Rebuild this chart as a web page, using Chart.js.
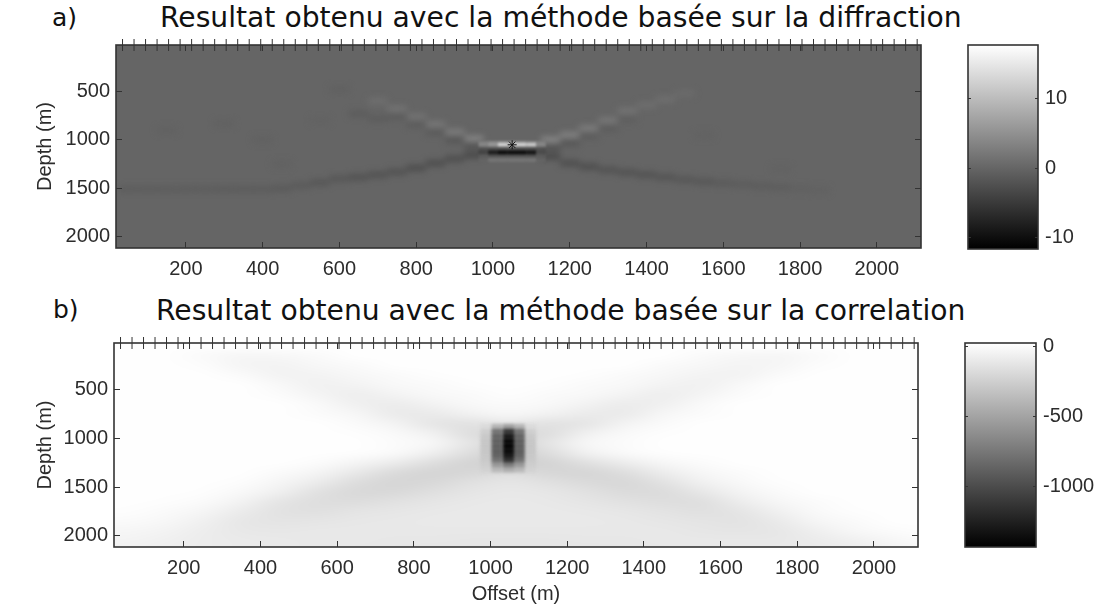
<!DOCTYPE html>
<html><head><meta charset="utf-8">
<style>
html,body{margin:0;padding:0;background:#fff;width:1102px;height:606px;overflow:hidden}
canvas{position:absolute}
.t{position:absolute;font-family:"DejaVu Sans";color:#111;white-space:nowrap;line-height:1}
</style>
<script src="https://cdn.jsdelivr.net/npm/chart.js@4"></script>
</head><body>
<div class="t" style="left:160px;top:4px;font-size:28.2px">Resultat obtenu avec la méthode basée sur la diffraction</div>
<div class="t" style="left:156px;top:297px;font-size:28.2px">Resultat obtenu avec la méthode basée sur la correlation</div>
<div class="t" style="left:52px;top:5px;font-size:25px">a)</div>
<div class="t" style="left:53px;top:297px;font-size:25px">b)</div>
<canvas id="ca" width="950" height="290" style="left:0;top:0"></canvas>
<canvas id="cb" width="950" height="316" style="left:0;top:290px"></canvas>
<canvas id="ba" width="142" height="290" style="left:960px;top:0"></canvas>
<canvas id="bb" width="142" height="316" style="left:960px;top:290px"></canvas>
<script>
// ---------- axes ----------
const xTicks = [200,400,600,800,1000,1200,1400,1600,1800,2000];
const yTicks = [500,1000,1500,2000];
const xRange = [18,2115];
const yRange = [20,2115];
const barTicksA = [-10,0,10];
const barRangeA = [-11.6,17.65];
const barTicksB = [-1000,-500,0];
const barRangeB = [-1429,26];
const receivers = [35,65,95,125,155,185,215,245,275,305,335,365,395,425,455,485,515,545,575,605,635,665,695,725,755,785,815,845,875,905,935,965,995,1025,1055,1085,1115,1145,1175,1205,1235,1265,1295,1325,1355,1385,1415,1445,1475,1505,1535,1565,1595,1625,1655,1685,1715,1745,1775,1805,1835,1865,1895,1925,1955,1985,2015,2045,2075,2105];
const sourceX = [1050];
const sourceY = [1050];

// ---------- panel a: diffraction, everything not listed is 0 ----------
const armAX = [700,750,800,850,900,950, 750,800,850,900,950,
 1150,1200,1250,1300,1350,1400,1450,1500, 1150,1200,1250,1300,1350,
 950,900,850,800,750,700,650,600,550,500,450,400,350,300,250,200,150,100,50,
 1150,1200,1250,1300,1350,1400,1450,1500,1550,1600,1650,1700,1750,1800,1850,
 600,650,700,300,150,400,550,450,1750,1550];
const armAY = [600,680,760,840,920,990, 760,840,920,1000,1060,
 1000,950,880,800,700,640,580,520, 1080,1030,960,880,790,
 1155,1195,1240,1290,1330,1360,1385,1400,1440,1470,1500,1510,1510,1510,1510,1510,1510,1510,1510,
 1170,1240,1275,1310,1335,1360,1385,1410,1430,1445,1460,1475,1490,1505,1520,
 480,730,780,830,900,1000,800,1250,1300,950];
const armAV = [1.2,1.8,1.8,2.4,3,4.2, -1.2,-1.2,-1.4,-1.8,-2.5,
 4.2,3.6,3,2.4,1.8,1.2,1.2,0.8, -2.5,-1.8,-1.2,-1.2,-0.8,
 -3.6,-3,-3,-3,-2.4,-2.4,-2.4,-1.8,-1.8,-1.4,-1.4,-1.2,-1.2,-1.2,-1,-1,-1,-1,-1,
 -3.6,-3,-3,-2.4,-2.4,-2.4,-2.2,-1.8,-1.8,-1.4,-1.2,-1.2,-1,-0.6,-0.5,
 -0.6,-1.2,-1.2,-0.5,-0.5,-0.5,-0.4,-0.5,-0.4,-0.4];
const coreAX = [975,1000,1025,1050,1075,1100,1125];
const coreAY = [1020,1040,1060,1080,1100,1120,1140,1160,1180,1200,1220];
const coreAV = [
 [3,4,5,5,5,4,3],
 [4,6,13,13,13,12,4],
 [4,6,13,13,13,12,4],
 [-1,-1,-1,-1,-1,-1,-1],
 [-3,-4,-4,-4,-4,-4,-3],
 [-4,-9,-11,-11,-11,-10,-3],
 [-4,-9,-11.5,-11.5,-11.5,-10,-3],
 [-1,-3,-3,-3,-3,-3,-1],
 [-1,-1,-1,-1,-1,-1,-1],
 [0,2.5,2.5,2.5,2.5,2.5,0],
 [0,1.5,1.5,1.5,1.5,1.5,0]];

// ---------- panel b: correlation ----------
const gridBX = [50,150,250,350,450,550,650,750,850,950,1050,1150,1250,1350,1450,1550,1650,1750,1850,1950,2050,2150];
const gridBY = [50,150,250,350,450,550,650,750,850,950,1050,1150,1250,1350,1450,1550,1650,1750,1850,1950,2050,2150];
const gridBV = [
 [20,20,20,20,20,20,20,20,20,20,20,20,20,20,20,20,20,20,20,20,20,20],
 [20,20,-5,-25,-20,-5,20,20,20,20,20,20,20,20,20,-5,-20,-25,-5,20,20,20],
 [20,20,10,-30,-40,-20,-5,20,20,20,20,20,20,20,-5,-20,-35,-25,10,20,20,20],
 [20,20,20,-5,-40,-45,-20,-3,15,20,20,20,15,-3,-20,-45,-40,-5,20,20,20,20],
 [20,20,20,20,-15,-55,-45,-15,-3,15,20,15,-3,-15,-45,-55,-15,20,20,20,20,20],
 [20,20,20,20,5,-35,-70,-45,-15,0,15,0,-15,-45,-70,-35,5,20,20,20,20,20],
 [20,20,20,20,20,-10,-60,-85,-50,-15,0,-15,-50,-85,-60,-10,20,20,20,20,20,20],
 [20,20,20,20,20,5,-25,-90,-95,-55,-25,-55,-90,-90,-25,5,20,20,20,20,20,20],
 [20,20,20,20,20,20,0,-45,-115,-140,-110,-140,-115,-45,0,20,20,20,20,20,20,20],
 [20,20,20,20,20,20,15,-10,-60,-160,-180,-160,-60,-10,15,20,20,20,20,20,20,20],
 [20,20,20,20,20,20,20,5,-25,-130,-220,-130,-25,5,20,20,20,20,20,20,20,20],
 [20,20,20,20,20,20,15,-10,-70,-170,-240,-170,-60,-10,15,20,20,20,20,20,20,20],
 [20,20,20,20,20,5,-35,-90,-165,-220,-230,-220,-150,-80,-25,5,20,20,20,20,20,20],
 [20,20,20,20,0,-35,-105,-180,-215,-200,-170,-200,-210,-160,-80,-25,5,20,20,20,20,20],
 [20,20,20,10,-30,-90,-170,-210,-195,-150,-125,-150,-185,-195,-140,-60,-15,15,20,20,20,20],
 [20,20,15,-15,-65,-145,-190,-190,-155,-120,-105,-115,-145,-180,-175,-110,-40,-5,20,20,20,20],
 [20,15,-5,-50,-125,-165,-170,-145,-120,-105,-100,-105,-120,-145,-165,-155,-85,-25,5,20,20,20],
 [15,0,-30,-90,-140,-150,-130,-115,-105,-100,-100,-100,-105,-115,-135,-150,-125,-60,-10,15,20,20],
 [0,-20,-60,-110,-130,-120,-110,-105,-100,-100,-100,-100,-100,-105,-115,-130,-135,-95,-30,0,20,20],
 [-25,-45,-75,-105,-110,-105,-105,-105,-105,-105,-105,-105,-105,-105,-105,-115,-120,-110,-65,-20,5,15],
 [-45,-60,-80,-95,-100,-105,-105,-110,-110,-115,-115,-115,-110,-110,-105,-105,-105,-105,-90,-60,-25,-5],
 [-55,-70,-85,-95,-100,-105,-110,-115,-120,-120,-120,-120,-120,-115,-110,-105,-100,-100,-95,-80,-50,-25]];
const coreBX = [988,1017,1047,1076,1104];
const coreBY = [875,925,975,1025,1075,1125,1175,1225,1275,1325];
const coreBV = [
 [-180,-400,-520,-400,-180],
 [-250,-780,-1130,-780,-250],
 [-280,-870,-1300,-870,-280],
 [-300,-900,-1400,-900,-300],
 [-300,-900,-1420,-900,-300],
 [-300,-900,-1380,-900,-300],
 [-290,-870,-1300,-870,-290],
 [-280,-780,-1150,-780,-280],
 [-260,-560,-720,-560,-260],
 [-230,-380,-440,-380,-230]];

// ---------- styling ----------
const INK = '#2c2c2c', LINE = '#333';
const FONT = {family:'"Liberation Sans"', size:20};

function grayOf(v, r){
  const g = Math.max(0, Math.min(255, Math.round((v-r[0])/(r[1]-r[0])*255)));
  return 'rgb('+g+','+g+','+g+')';
}
function blurredCells(chart, cells, dx, dy, blur, range){
  const {x, y} = chart.scales, c = chart.ctx, a = chart.chartArea;
  const layer = document.createElement('canvas');
  layer.width = chart.width; layer.height = chart.height;
  const l = layer.getContext('2d');
  cells.forEach(([cx,cy,v]) => {
    const x0 = x.getPixelForValue(cx-dx/2), x1 = x.getPixelForValue(cx+dx/2);
    const y0 = y.getPixelForValue(cy-dy/2), y1 = y.getPixelForValue(cy+dy/2);
    l.fillStyle = grayOf(v, range);
    l.fillRect(x0, y0, x1-x0, y1-y0);
  });
  c.save();
  c.beginPath(); c.rect(a.left, a.top, a.width, a.height); c.clip();
  c.filter = 'blur('+blur+'px)';
  c.drawImage(layer, 0, 0);
  c.restore();
}
function matrixCells(xs, ys, vs){
  const out = [];
  ys.forEach((yy,j) => xs.forEach((xx,i) => out.push([xx,yy,vs[j][i]])));
  return out;
}
const heatA = {id:'heatA', beforeDatasetsDraw(chart){
  const a = chart.chartArea, c = chart.ctx;
  c.fillStyle = grayOf(0, barRangeA);
  c.fillRect(a.left, a.top, a.width, a.height);
  blurredCells(chart, armAX.map((v,i)=>[v,armAY[i],armAV[i]]), 50, 60, 3, barRangeA);
  blurredCells(chart, matrixCells(coreAX, coreAY, coreAV), 25, 20, 1.1, barRangeA);
}};
const heatB = {id:'heatB', beforeDatasetsDraw(chart){
  const {x, y} = chart.scales, c = chart.ctx, a = chart.chartArea;
  const bmp = document.createElement('canvas');
  bmp.width = gridBX.length; bmp.height = gridBY.length;
  const b = bmp.getContext('2d');
  gridBV.forEach((row,j) => row.forEach((v,i) => { b.fillStyle = grayOf(v, barRangeB); b.fillRect(i,j,1,1); }));
  const sx = gridBX[1]-gridBX[0], sy = gridBY[1]-gridBY[0];
  const x0 = x.getPixelForValue(gridBX[0]-sx/2), x1 = x.getPixelForValue(gridBX[gridBX.length-1]+sx/2);
  const y0 = y.getPixelForValue(gridBY[0]-sy/2), y1 = y.getPixelForValue(gridBY[gridBY.length-1]+sy/2);
  c.save();
  c.beginPath(); c.rect(a.left, a.top, a.width, a.height); c.clip();
  c.imageSmoothingEnabled = true; c.imageSmoothingQuality = 'high';
  c.drawImage(bmp, x0, y0, x1-x0, y1-y0);
  c.restore();
  blurredCells(chart, matrixCells(coreBX, coreBY, coreBV), 29, 50, 1.8, barRangeB);
}};
const frame = {id:'frame', afterDraw(chart){
  const a = chart.chartArea, c = chart.ctx;
  c.save(); c.strokeStyle = LINE; c.lineWidth = 1.6;
  c.strokeRect(a.left, a.top, a.width, a.height);
  c.restore();
}};
const tickMarks = (len) => ({display:true, drawOnChartArea:false, drawTicks:true, tickLength:-len, color:LINE, lineWidth:1, z:1});
const fixTicks = (arr) => (s) => { s.ticks = arr.map(v => ({value:v})); };

function mainChart(id, plugins, area, xTitle, points){
  const [l, t, r, b] = area;
  const el = document.getElementById(id);
  return new Chart(el, {
    type:'scatter',
    data:{datasets:points},
    plugins:plugins.concat([frame]),
    options:{
      responsive:false, animation:false, events:[],
      layout:{padding:{left:0, top:t, right:el.width-r, bottom:0}},
      plugins:{legend:{display:false}, tooltip:{enabled:false}, title:{display:false}},
      scales:{
        x:{type:'linear', position:'bottom', min:xRange[0], max:xRange[1],
           afterBuildTicks:fixTicks(xTicks),
           afterFit:(s)=>{s.height = el.height-b;},
           border:{display:false}, grid:tickMarks(6),
           title:{display:!!xTitle, text:xTitle||'', color:INK, font:FONT, padding:{top:5,bottom:0}},
           ticks:{color:INK, font:FONT, autoSkip:false, maxRotation:0, padding:15, callback:(v)=>String(v)}},
        y:{type:'linear', position:'left', reverse:true, min:yRange[0], max:yRange[1],
           afterBuildTicks:fixTicks(yTicks),
           afterFit:(s)=>{s.width = l;},
           border:{display:false}, grid:tickMarks(6),
           title:{display:true, text:'Depth (m)', color:INK, font:FONT, padding:{top:33,bottom:0}},
           ticks:{color:INK, font:FONT, autoSkip:false, padding:12, callback:(v)=>String(v)}},
        xTop:{type:'linear', position:'top', min:xRange[0], max:xRange[1],
           afterBuildTicks:fixTicks(xTicks),
           afterFit:(s)=>{s.height = 0;},
           border:{display:false}, grid:tickMarks(6), ticks:{display:false}},
        yRight:{type:'linear', position:'right', reverse:true, min:yRange[0], max:yRange[1],
           afterBuildTicks:fixTicks(yTicks),
           afterFit:(s)=>{s.width = 0;},
           border:{display:false}, grid:tickMarks(6), ticks:{display:false}}
      }
    }
  });
}
function barChart(id, range, ticks, area){
  const [l, t, r, b] = area;
  const el = document.getElementById(id);
  return new Chart(el, {
    type:'bar',
    data:{labels:[''], datasets:[{
      data:[range],
      barPercentage:1, categoryPercentage:1, borderWidth:0,
      backgroundColor:(ctx)=>{
        const a = ctx.chart.chartArea;
        if(!a) return '#888';
        const g = ctx.chart.ctx.createLinearGradient(0,a.top,0,a.bottom);
        g.addColorStop(0,'#ffffff'); g.addColorStop(1,'#000000');
        return g;
      }}]},
    plugins:[frame],
    options:{
      responsive:false, animation:false, events:[],
      layout:{padding:{left:l, top:t, right:0, bottom:el.height-b}},
      plugins:{legend:{display:false}, tooltip:{enabled:false}, title:{display:false}},
      scales:{
        x:{type:'category', display:false},
        y:{type:'linear', position:'right', min:range[0], max:range[1],
           afterBuildTicks:fixTicks(ticks),
           afterFit:(s)=>{s.width = el.width-r;},
           border:{display:false}, grid:tickMarks(3),
           ticks:{color:INK, font:FONT, autoSkip:false, padding:10, callback:(v)=>String(v)}},
        yLeft:{type:'linear', position:'left', min:range[0], max:range[1],
           afterBuildTicks:fixTicks(ticks),
           afterFit:(s)=>{s.width = 0;},
           border:{display:false}, grid:tickMarks(3), ticks:{display:false}}
      }
    }
  });
}
const receiverPoints = () => ({
  data:receivers.map(v => ({x:v, y:yRange[0]})),
  pointStyle:'line', pointRotation:90, pointRadius:6, pointBorderWidth:1,
  borderColor:LINE, backgroundColor:LINE, clip:false
});
const sourcePoints = () => ({
  data:sourceX.map((v,i) => ({x:v, y:sourceY[i]})),
  pointStyle:'star', pointRadius:4.5, pointBorderWidth:1,
  borderColor:'#111', backgroundColor:'#111'
});
mainChart('ca', [heatA], [116,45,921,248], null, [receiverPoints(), sourcePoints()]);
mainChart('cb', [heatB], [114,53,918,257], 'Offset (m)', [receiverPoints()]);
barChart('ba', barRangeA, barTicksA, [8,45,78,249]);
barChart('bb', barRangeB, barTicksB, [5,53,76,257]);
</script>
</body></html>
